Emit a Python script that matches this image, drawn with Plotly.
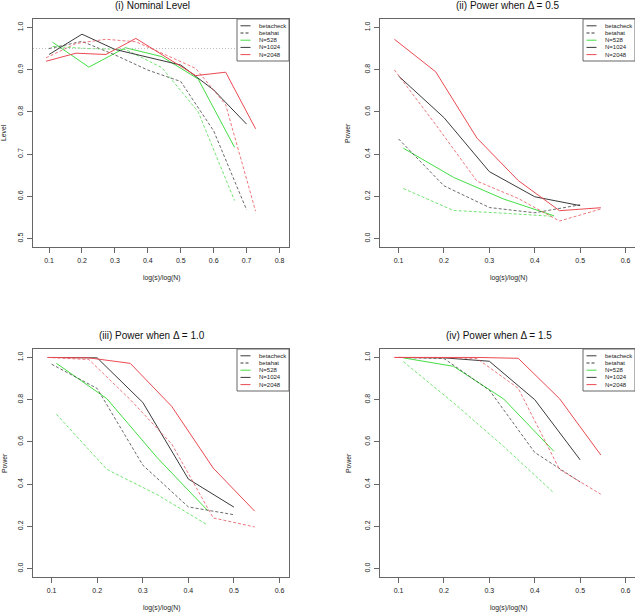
import plotly.graph_objects as go

W, H = 635, 613

# ---- x positions: log(s)/log(N) ----
x528 = [0.1106, 0.2211, 0.3317, 0.4423, 0.5529, 0.6634]
x1024 = [0.1, 0.2, 0.3, 0.4, 0.5, 0.6, 0.7]
x2048 = [0.0909, 0.1818, 0.2727, 0.3636, 0.4545, 0.5455, 0.6364, 0.7273]

# ---- (i) Nominal level ----
lvl_check528 = [0.965, 0.906, 0.952, 0.931, 0.878, 0.716]
lvl_hat528 = [0.955, 0.950, 0.948, 0.905, 0.800, 0.590]
lvl_check1024 = [0.936, 0.984, 0.948, 0.930, 0.911, 0.852, 0.771]
lvl_hat1024 = [0.950, 0.967, 0.935, 0.899, 0.872, 0.755, 0.568]
lvl_check2048 = [0.920, 0.939, 0.936, 0.974, 0.930, 0.886, 0.894, 0.760]
lvl_hat2048 = [0.928, 0.962, 0.972, 0.966, 0.935, 0.903, 0.817, 0.565]
nominal = 0.95

# ---- (ii) Power, Delta = 0.5 ----
p05_check528 = [0.428, 0.290, 0.187, 0.108]
p05_hat528 = [0.237, 0.133, 0.120, 0.105]
p05_check1024 = [0.770, 0.573, 0.317, 0.198, 0.156]
p05_hat1024 = [0.472, 0.250, 0.147, 0.122, 0.160]
p05_check2048 = [0.944, 0.790, 0.476, 0.275, 0.132, 0.146]
p05_hat2048 = [0.799, 0.540, 0.272, 0.190, 0.083, 0.140]

# ---- (iii) Power, Delta = 1.0 ----
p10_check528 = [0.972, 0.805, 0.525, 0.275]
p10_hat528 = [0.731, 0.470, 0.350, 0.206]
p10_check1024 = [1.000, 0.998, 0.787, 0.424, 0.291]
p10_hat1024 = [0.968, 0.853, 0.490, 0.292, 0.255]
p10_check2048 = [1.000, 0.998, 0.972, 0.768, 0.476, 0.272]
p10_hat2048 = [1.000, 0.990, 0.800, 0.590, 0.240, 0.197]

# ---- (iv) Power, Delta = 1.5 ----
p15_check528 = [0.998, 0.958, 0.803, 0.555]
p15_hat528 = [0.980, 0.785, 0.578, 0.358]
p15_check1024 = [1.000, 0.998, 0.982, 0.800, 0.515]
p15_hat1024 = [1.000, 0.995, 0.845, 0.550, 0.410]
p15_check2048 = [1.000, 1.000, 1.000, 0.996, 0.805, 0.538]
p15_hat2048 = [1.000, 1.000, 0.995, 0.854, 0.470, 0.352]

titles = ["(i) Nominal Level", "(ii) Power when \u0394 = 0.5",
          "(iii) Power when \u0394 = 1.0", "(iv) Power when \u0394 = 1.5"]
ylabels = ["Level", "Power", "Power", "Power"]
xlabel = "log(s)/log(N)"
legend_labels = ["betacheck", "betahat", "N=528", "N=1024", "N=2048"]

GREEN = "#44dd44"
BLACK = "#3a3a3a"
RED = "#ea4a52"
FRAME = "#666666"
TICKFONT = "Liberation Sans"
TITLEFONT = "Liberation Sans"

panels = [
    dict(data=[(lvl_check528, lvl_hat528), (lvl_check1024, lvl_hat1024), (lvl_check2048, lvl_hat2048)],
         px=(33, 289), py=(19, 247), xr=[0.0512, 0.8288], yr=[0.48, 1.02], dy=0.1,
         title_xy=(152.5, 6), ylab_x=4, xlab_x=161),
    dict(data=[(p05_check528, p05_hat528), (p05_check1024, p05_hat1024), (p05_check2048, p05_hat2048)],
         px=(380, 635), py=(19, 247), xr=[0.0592, 0.6208], yr=[-0.04, 1.04], dy=0.2,
         title_xy=(508, 6), ylab_x=348, xlab_x=508),
    dict(data=[(p10_check528, p10_hat528), (p10_check1024, p10_hat1024), (p10_check2048, p10_hat2048)],
         px=(33, 289), py=(349, 577), xr=[0.0592, 0.6208], yr=[-0.04, 1.04], dy=0.2,
         title_xy=(152, 335), ylab_x=4, xlab_x=161),
    dict(data=[(p15_check528, p15_hat528), (p15_check1024, p15_hat1024), (p15_check2048, p15_hat2048)],
         px=(380, 635), py=(349, 577), xr=[0.0592, 0.6208], yr=[-0.04, 1.04], dy=0.2,
         title_xy=(498.5, 335), ylab_x=348, xlab_x=508),
]

xs = [x528, x1024, x2048]
cols = [GREEN, BLACK, RED]

fig = go.Figure()
annotations = []
shapes = []


def pxx(p):
    return p / W


def pyy(p):
    return 1 - p / H


for i, pn in enumerate(panels):
    k = "" if i == 0 else str(i + 1)
    xa, ya = "x" + k, "y" + k
    for (check, hat), xv, c in zip(pn["data"], xs, cols):
        n = len(check)
        fig.add_trace(go.Scatter(x=xv[:n], y=hat, mode="lines", xaxis=xa, yaxis=ya,
                                 line=dict(color=c, width=1, dash="3px,2px"), opacity=0.75,
                                 showlegend=False, hoverinfo="skip"))
        fig.add_trace(go.Scatter(x=xv[:n], y=check, mode="lines", xaxis=xa, yaxis=ya,
                                 line=dict(color=c, width=1),
                                 showlegend=False, hoverinfo="skip"))
    x0, x1 = pn["px"]
    y0, y1 = pn["py"]
    right_cut = x1 >= W
    fig.update_layout({
        "xaxis" + k: dict(domain=[pxx(x0), min(1.0, pxx(x1))], range=pn["xr"], anchor=ya,
                          dtick=0.1, tick0=0, tickformat=".1f", showgrid=False, zeroline=False,
                          showline=True, linecolor=FRAME, linewidth=1, mirror=True,
                          ticks="outside", ticklen=5, tickcolor=FRAME, tickwidth=1,
                          tickfont=dict(family=TICKFONT, size=7, color="#222"),
                          ticklabelstandoff=2),
        "yaxis" + k: dict(domain=[pyy(y1), pyy(y0)], range=pn["yr"], anchor=xa,
                          dtick=pn["dy"], tick0=0, tickformat=".1f", showgrid=False, zeroline=False,
                          showline=True, linecolor=FRAME, linewidth=1,
                          mirror=(not right_cut),
                          ticks="outside", ticklen=5, tickcolor=FRAME, tickwidth=1,
                          tickangle=-90,
                          tickfont=dict(family=TICKFONT, size=7, color="#222"),
                          ticklabelstandoff=1),
    })
    # title
    tx, ty = pn["title_xy"]
    annotations.append(dict(text=titles[i], x=pxx(tx), y=pyy(ty), xref="paper", yref="paper",
                            xanchor="center", yanchor="middle", showarrow=False,
                            font=dict(family=TITLEFONT, size=10, color="#111", weight="normal")))
    # x label
    annotations.append(dict(text=xlabel, x=pxx(pn["xlab_x"]),
                            y=pyy(y1 + 31), xref="paper", yref="paper",
                            xanchor="center", yanchor="middle", showarrow=False,
                            font=dict(family=TICKFONT, size=6.8, color="#222")))
    # y label
    annotations.append(dict(text=ylabels[i], x=pxx(pn["ylab_x"]), y=pyy((y0 + y1) / 2),
                            xref="paper", yref="paper", textangle=-90,
                            xanchor="center", yanchor="middle", showarrow=False,
                            font=dict(family=TICKFONT, size=6.8, color="#222")))
    # reference line at nominal level
    if i == 0:
        shapes.append(dict(type="line", xref="x domain", yref=ya, x0=0, x1=1, y0=nominal, y1=nominal,
                           line=dict(color="#bbbbbb", width=1, dash="1px,2px")))
    # legend box (manual, R-style)
    lx0 = x1 - 52 if not right_cut else 583
    lx1 = lx0 + 52
    ly0, ly1 = y0, y0 + 42
    shapes.append(dict(type="rect", xref="paper", yref="paper",
                       x0=pxx(lx0), x1=pxx(lx1), y0=pyy(ly1), y1=pyy(ly0),
                       line=dict(color=FRAME, width=1), fillcolor="white", layer="above"))
    leg_cols = [BLACK, BLACK, GREEN, BLACK, RED]
    leg_dash = ["solid", "3px,2px", "solid", "solid", "solid"]
    for j, lab in enumerate(legend_labels):
        ry = ly0 + 6.8 + 7.2 * j
        shapes.append(dict(type="line", xref="paper", yref="paper",
                           x0=pxx(lx0 + 3.5), x1=pxx(lx0 + 13.5), y0=pyy(ry), y1=pyy(ry),
                           line=dict(color=leg_cols[j], width=1, dash=leg_dash[j]), layer="above"))
        annotations.append(dict(text=lab, x=pxx(lx0 + 20), y=pyy(ry), xref="paper", yref="paper",
                                xanchor="left", yanchor="middle", showarrow=False,
                                font=dict(family=TICKFONT, size=6, color="#222")))

fig.update_layout(width=W, height=H, margin=dict(l=0, r=0, t=0, b=0, autoexpand=False),
                  paper_bgcolor="white", plot_bgcolor="white", showlegend=False,
                  annotations=annotations, shapes=shapes)

fig.write_html("out.html", config={"displayModeBar": False},
               post_script="document.body.style.margin='0px';document.body.style.padding='0px';")
